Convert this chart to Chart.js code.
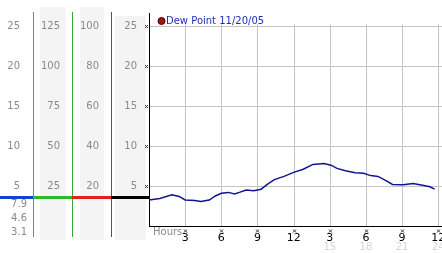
<!DOCTYPE html>
<html><head><meta charset="utf-8">
<style>html,body{margin:0;padding:0;background:#fff;overflow:hidden}</style>
<script src="https://cdn.jsdelivr.net/npm/chart.js@4"></script>
</head><body>
<canvas id="c" width="442" height="253"></canvas>
<script>
// ---- data ----
const seriesLabel = 'Dew Point 11/20/05';
const hours = [0,0.9,1.9,2.5,3.0,3.8,4.3,5.0,5.5,6.0,6.6,7.1,7.5,8.05,8.7,9.3,9.9,10.4,11.2,12.0,12.8,13.6,14.5,15.1,15.6,16.3,17.1,17.8,18.4,19.0,19.7,20.2,21.1,21.9,22.7,23.3,23.7];
const dewPoint = [3.25,3.45,3.9,3.7,3.25,3.2,3.05,3.25,3.75,4.1,4.2,4.0,4.2,4.5,4.4,4.6,5.3,5.8,6.2,6.7,7.1,7.7,7.8,7.6,7.2,6.9,6.65,6.6,6.3,6.2,5.65,5.2,5.15,5.3,5.1,4.9,4.6];
const hourTicks = [3,6,9,12,15,18,21,24];
const hourLabels = ['3','6','9','12','3','6','9','12'];
const secondRowLabels = ['','','','','15','18','21','24'];
const ticksCol1 = [5,10,15,20,25];
const ticksCol2 = [25,50,75,100,125];
const ticksCol3 = [20,40,60,80,100];
const ticksMain = [5,10,15,20,25];
const statLabels = ['7.9','4.6','3.1'];
const markerValue = 3.6;
const yTop = 26.625;

const FONT = 'DejaVu Sans';
const pts = hours.map((h,i)=>({x:h,y:dewPoint[i]}));

function fixTicks(list){ return s => { s.ticks = list.map(v=>({value:v})); }; }
function fixWidth(w){ return s => { s.width = w; s.paddingTop = 0; s.paddingBottom = 0; }; }

const decor = {
  id:'decor',
  beforeDraw(chart){
    const ctx = chart.ctx, s = chart.scales;
    ctx.save();
    ctx.fillStyle = '#f4f4f4';
    ctx.fillRect(s.c2.left+7, 7, s.c2.width-13, 233);
    ctx.fillRect(s.c3.left+8, 7, s.c3.width-15, 233);
    ctx.fillRect(s.y.left+4, 16, s.y.width-7, 224);
    ctx.restore();
  },
  beforeDatasetsDraw(chart){
    const ctx = chart.ctx, x = chart.scales.x, y = chart.scales.y, ca = chart.chartArea;
    ctx.save();
    ctx.strokeStyle = '#c4c4c4'; ctx.lineWidth = 1;
    const top = Math.round(y.getPixelForValue(25)) - 1.5;
    hourTicks.forEach(v=>{
      const px = Math.round(x.getPixelForValue(v)) + 0.5;
      ctx.beginPath(); ctx.moveTo(px, top); ctx.lineTo(px, ca.bottom); ctx.stroke();
    });
    ctx.restore();
  },
  afterDraw(chart){
    const ctx = chart.ctx, s = chart.scales, ca = chart.chartArea;
    ctx.save();
    // colored separators
    const seps = [[s.c1.right,'#3a98cc'],[s.c2.right,'#35a535'],[s.c3.right,'#b52a2a']];
    ctx.lineWidth = 1;
    seps.forEach(([px,col])=>{
      ctx.strokeStyle = col;
      const xx = Math.round(px)+0.5;
      ctx.beginPath(); ctx.moveTo(xx, 12); ctx.lineTo(xx, 237); ctx.stroke();
    });
    // horizontal marker
    const my = Math.round(s.y.getPixelForValue(markerValue)) + 0.5;
    const segs = [[0,s.c1.right,'#1840d0'],[s.c1.right,s.c2.right,'#30b830'],[s.c2.right,s.c3.right,'#e22020'],[s.c3.right,ca.left,'#000']];
    ctx.lineWidth = 3;
    segs.forEach(([a,b,col])=>{
      ctx.strokeStyle = col;
      ctx.beginPath(); ctx.moveTo(a, my); ctx.lineTo(b, my); ctx.stroke();
    });
    // stat labels
    ctx.fillStyle = '#8a8a8a';
    ctx.font = '10px "'+FONT+'"';
    ctx.textAlign = 'right'; ctx.textBaseline = 'middle';
    statLabels.forEach((t,i)=>{ ctx.fillText(t, s.c1.right-6, ca.bottom-22+i*14); });
    // tick marks
    ctx.strokeStyle = '#333'; ctx.lineWidth = 1;
    function mark(cx, cy){
      ctx.beginPath();
      ctx.moveTo(cx-1.5, cy-1.5); ctx.lineTo(cx+1.5, cy+1.5);
      ctx.moveTo(cx+1.5, cy-1.5); ctx.lineTo(cx-1.5, cy+1.5);
      ctx.stroke();
    }
    ticksMain.forEach(v=>{ mark(ca.left-2.5, Math.round(s.y.getPixelForValue(v))+0.5); });
    hourTicks.forEach(v=>{ mark(Math.round(s.x.getPixelForValue(v))+0.5, ca.bottom+5); });
    // second row labels
    ctx.fillStyle = '#d6d6d6';
    ctx.textAlign = 'center';
    hourTicks.forEach((v,i)=>{ if(secondRowLabels[i]) ctx.fillText(secondRowLabels[i], s.x.getPixelForValue(v), 247); });
    // Hours label
    ctx.fillStyle = '#8a8a8a';
    ctx.textAlign = 'left';
    ctx.fillText('Hours', ca.left+4, ca.bottom+6);
    // legend
    ctx.beginPath(); ctx.arc(161.5, 21, 3.5, 0, Math.PI*2);
    ctx.fillStyle = '#a81414'; ctx.fill();
    ctx.strokeStyle = '#4a0000'; ctx.lineWidth = 1; ctx.stroke();
    ctx.fillStyle = '#1c30b4';
    ctx.font = '10px "'+FONT+'"';
    ctx.fillText(chart.data.datasets[0].label, 166, 21);
    ctx.restore();
  }
};

const grayTicks = (pad)=>({color:'#8a8a8a', font:{family:FONT,size:10}, padding:pad});

new Chart(document.getElementById('c'), {
  type:'line',
  data:{ datasets:[{
    label: seriesLabel, data: pts, borderColor:'#14148e', borderWidth:1.5,
    pointRadius:0, tension:0, fill:false, yAxisID:'y'
  }]},
  options:{
    responsive:false, animation:false, devicePixelRatio:1,
    layout:{padding:{top:13,left:0,right:0,bottom:0}},
    plugins:{legend:{display:false}, tooltip:{enabled:false}},
    scales:{
      x:{type:'linear', position:'bottom', min:0, max:24.31,
        afterBuildTicks: fixTicks(hourTicks),
        afterFit: s=>{ s.height = 27; s.paddingLeft = 0; s.paddingRight = 0; },
        grid:{display:false, drawTicks:false},
        border:{display:true, color:'#000', width:1},
        ticks:{color:'#000', font:{family:FONT,size:11}, padding:6, maxRotation:0, autoSkip:false,
          callback:(v)=>{ const i = hourTicks.indexOf(v); return i>=0 ? hourLabels[i] : ''; }}
      },
      y:{type:'linear', position:'left', weight:1, min:0, max:yTop,
        afterBuildTicks: fixTicks(ticksMain), afterFit: fixWidth(38),
        grid:{color:'#c4c4c4', drawTicks:false, lineWidth:1},
        border:{display:true, color:'#000', width:1},
        ticks: grayTicks(12)
      },
      c3:{type:'linear', position:'left', weight:2, min:0, max:yTop*4,
        afterBuildTicks: fixTicks(ticksCol3), afterFit: fixWidth(39),
        grid:{display:false, drawTicks:false}, border:{display:false},
        ticks: grayTicks(12)
      },
      c2:{type:'linear', position:'left', weight:3, min:0, max:yTop*5,
        afterBuildTicks: fixTicks(ticksCol2), afterFit: fixWidth(39),
        grid:{display:false, drawTicks:false}, border:{display:false},
        ticks: grayTicks(12)
      },
      c1:{type:'linear', position:'left', weight:4, min:0, max:yTop,
        afterBuildTicks: fixTicks(ticksCol1), afterFit: fixWidth(33),
        grid:{display:false, drawTicks:false}, border:{display:false},
        ticks: grayTicks(13)
      }
    }
  },
  plugins:[decor]
});
</script>
</body></html>
